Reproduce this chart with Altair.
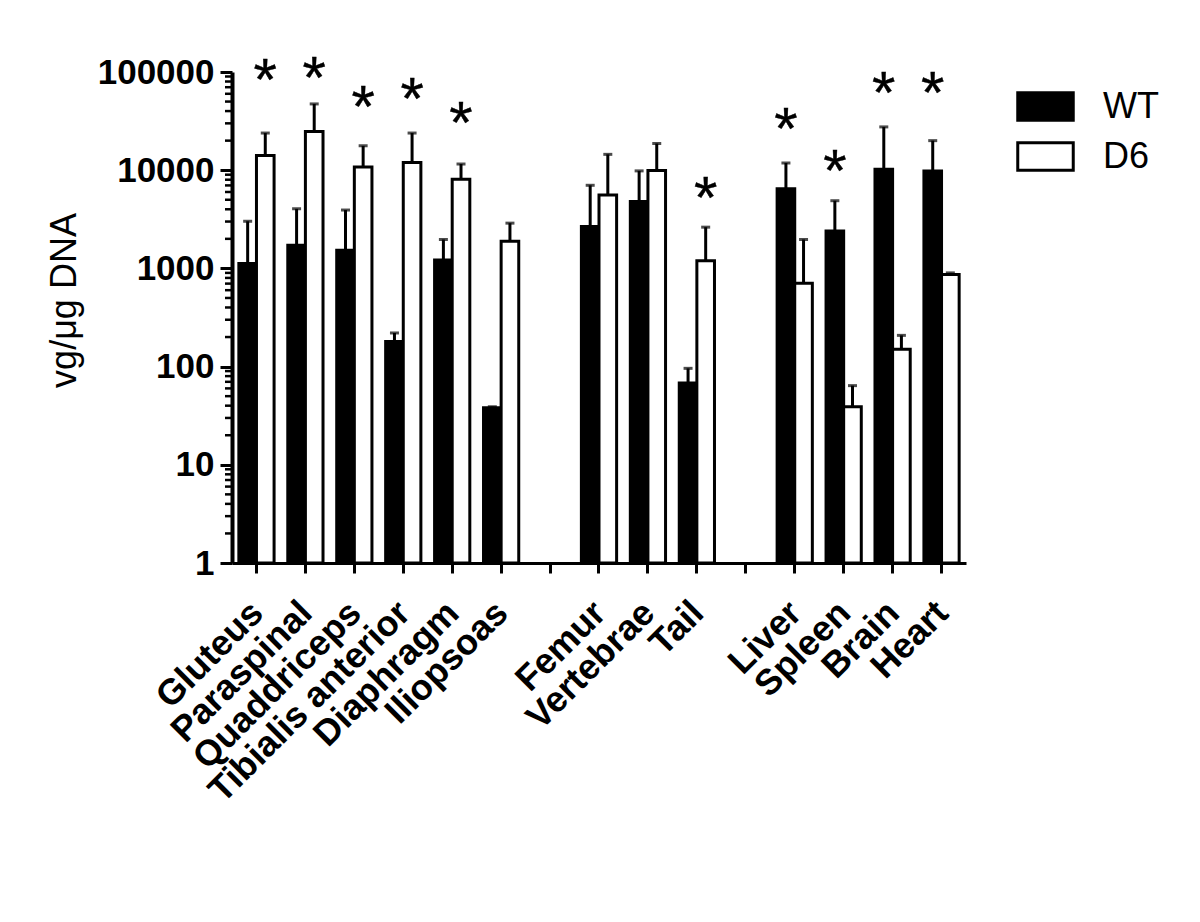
import altair as alt
import pandas as pd

FONT = "Liberation Sans"

categories = ["Gluteus", "Paraspinal", "Quaddriceps", "Tibialis anterior", "Diaphragm",
              "Iliopsoas", " ", "Femur", "Vertebrae", "Tail", "  ",
              "Liver", "Spleen", "Brain", "Heart"]
groups = ["WT", "D6"]

wt_mean = [1120, 1720, 1530, 180, 1220, 38, None, 2670, 4810, 68, None, 6470, 2400, 10240, 9840]
wt_upper = [3020, 4040, 3930, 220, 1970, 39, None, 7020, 9840, 96, None, 11840, 4890, 27600, 20000]
d6_mean = [14100, 24800, 10800, 12000, 8110, 1890, None, 5600, 9930, 1194, None, 707, 39, 150, 865]
d6_upper = [23900, 47300, 17700, 23900, 11560, 2890, None, 14500, 18700, 2630, None, 1970, 64, 208, 900]

star_cats = ["Gluteus", "Paraspinal", "Quaddriceps", "Tibialis anterior", "Diaphragm",
             "Tail", "Liver", "Spleen", "Brain", "Heart"]
star_group = ["D6", "D6", "D6", "D6", "D6", "D6", "WT", "WT", "WT", "WT"]
star_y = [96000, 100000, 50400, 61700, 35100, 5970, 29900, 11380, 70700, 70700]

major_ticks = [1, 10, 100, 1000, 10000, 100000]
minor_ticks = [k * 10 ** e for e in range(5) for k in range(2, 10)]

rows = []
for c, m, u in zip(categories, wt_mean, wt_upper):
    if m is not None:
        rows.append({"cat": c, "group": "WT", "mean": m, "upper": u})
for c, m, u in zip(categories, d6_mean, d6_upper):
    if m is not None:
        rows.append({"cat": c, "group": "D6", "mean": m, "upper": u})
df = pd.DataFrame(rows)
stars = pd.DataFrame({"cat": star_cats, "group": star_group, "y": star_y, "t": ["*"] * len(star_cats)})
minor = pd.DataFrame({"v": minor_ticks})

yscale = alt.Scale(type="log", domain=[1, 100000])
xscale = alt.Scale(domain=categories, paddingInner=0.28, paddingOuter=0.14)
xoff = alt.XOffset("group:N", scale=alt.Scale(domain=groups), sort=groups)

xaxis = alt.Axis(title=None, labelAngle=-45, labelAlign="right", labelBaseline="middle",
                 labelFont=FONT, labelFontSize=36, labelFontWeight="bold", labelColor="black",
                 labelPadding=34, labelOffset=1, tickSize=10, tickWidth=3, tickColor="black",
                 domainWidth=3, domainColor="black", grid=False, labelLimit=500)
yaxis = alt.Axis(title="vg/\u03bcg DNA", values=major_ticks, format="d",
                 labelFont=FONT, labelFontSize=35, labelFontWeight="bold", labelColor="black",
                 labelPadding=6, tickSize=12, tickWidth=3, tickColor="black",
                 domainWidth=4, domainColor="black", grid=False,
                 titleFont=FONT, titleFontSize=36, titleFontWeight="normal", titleColor="black",
                 titlePadding=14, titleY=228, titleAnchor="middle")

base = alt.Chart(df)

bars = base.mark_bar(stroke="black", strokeWidth=3).encode(
    x=alt.X("cat:N", scale=xscale, axis=xaxis, sort=categories),
    xOffset=xoff,
    y=alt.Y("mean:Q", scale=yscale, axis=yaxis),
    y2=alt.datum(1),
    fill=alt.Fill("group:N", scale=alt.Scale(domain=groups, range=["black", "white"]),
                  legend=alt.Legend(orient="none", legendX=784, legendY=5, title=None,
                                    labelFont=FONT, labelFontSize=36, labelColor="black",
                                    symbolType="M-1,-0.5H1V0.5H-1Z", symbolSize=3080,
                                    symbolStrokeColor="black", symbolStrokeWidth=3,
                                    symbolOpacity=1, labelOffset=28, rowPadding=0, padding=0)),
)

err = base.mark_rule(color="black", strokeWidth=3).encode(
    x=alt.X("cat:N", scale=xscale, sort=categories),
    xOffset=xoff,
    y=alt.Y("mean:Q", scale=yscale),
    y2="upper:Q",
)

caps = base.mark_tick(color="black", thickness=3, size=9, orient="horizontal").encode(
    x=alt.X("cat:N", scale=xscale, sort=categories),
    xOffset=xoff,
    y=alt.Y("upper:Q", scale=yscale),
)

star_layer = alt.Chart(stars).mark_text(font=FONT, fontSize=60, color="black",
                                        baseline="alphabetic", dy=26,
                                        stroke="black", strokeWidth=0.4).encode(
    x=alt.X("cat:N", scale=xscale, sort=categories),
    xOffset=alt.XOffset("group:N", scale=alt.Scale(domain=groups), sort=groups),
    y=alt.Y("y:Q", scale=yscale),
    text="t:N",
)

minor_layer = alt.Chart(minor).mark_rule(color="black", strokeWidth=2.5).encode(
    y=alt.Y("v:Q", scale=yscale),
    x=alt.value(-7),
    x2=alt.value(0),
)

chart = alt.layer(bars, err, caps, star_layer, minor_layer).properties(
    width=734, height=491,
    autosize=alt.AutoSizeParams(type="none"),
    padding={"left": 224, "top": 64, "right": 220, "bottom": 250},
    background="white",
).configure_view(stroke=None)

chart.save("out.html", embed_options={"renderer": "svg", "actions": False})
